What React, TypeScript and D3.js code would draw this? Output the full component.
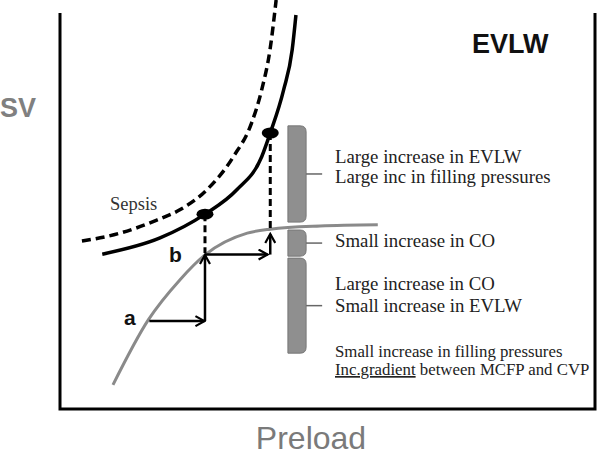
import React from "react";
import * as d3 from "d3";

// Curves (preload, SV) in abstract units 0..100
const sepsisCurve: [number, number][] = [
  [4.1, 42.4], [11.2, 44.4], [18.1, 47.7], [22.4, 50.3], [27.4, 55.3],
  [32.4, 63.7], [35.8, 72.2], [37.7, 80.6], [39.25, 90.7], [40.4, 103.3],
];
const evlwCurve: [number, number][] = [
  [7.9, 39.1], [18.7, 43.2], [27.1, 49.2], [33.0, 55.3], [37.7, 63.7],
  [39.3, 69.7], [41.8, 80.6], [43.4, 90.7], [44.1, 99.5],
];
const starlingCurve: [number, number][] = [
  [9.9, 6.1], [16.5, 22.5], [22.4, 32.6], [27.1, 38.9], [35.0, 44.4],
  [39.3, 45.4], [48.6, 46.2], [59.4, 46.5],
];
const dots: [number, number][] = [[27.1, 49.2], [39.3, 69.7]];
const dropLines: { x: number; y1: number; y2: number }[] = [
  { x: 27.1, y1: 49.2, y2: 39.4 },
  { x: 39.3, y1: 69.7, y2: 45.3 },
];
const arrows: { x1: number; y1: number; x2: number; y2: number }[] = [
  { x1: 16.7, y1: 22.2, x2: 27.0, y2: 22.2 },
  { x1: 27.1, y1: 22.2, x2: 27.1, y2: 38.9 },
  { x1: 27.1, y1: 39.0, x2: 38.8, y2: 39.0 },
  { x1: 39.3, y1: 39.0, x2: 39.3, y2: 44.2 },
];
const brackets: { top: number; bottom: number }[] = [
  { top: 71.5, bottom: 47.2 },
  { top: 45.2, bottom: 38.6 },
  { top: 38.1, bottom: 14.1 },
];
const bigNotes = [
  "Large increase in EVLW",
  "Large inc in filling pressures",
  "Small increase in CO",
  "Large increase in CO",
  "Small increase in EVLW",
];
const smallNotes = ["Small increase in filling pressures", "between MCFP and CVP"];

const W = 600;
const H = 457;
const left = 60, right = 595, bottom = 409, top = 13;

export default function App() {
  const x = d3.scaleLinear().domain([0, 100]).range([left, right]);
  const y = d3.scaleLinear().domain([0, 100]).range([bottom, top]);
  const line = d3
    .line<[number, number]>()
    .x((d) => x(d[0]))
    .y((d) => y(d[1]))
    .curve(d3.curveMonotoneX);

  const bx0 = x(42.6), bx1 = x(46.0), tabX = x(49.0);
  const bracketPath = (t: number, b: number) => {
    const y0 = y(t), y1 = y(b);
    const r = Math.min(6, (y1 - y0) / 3);
    return `M${bx0},${y0} L${bx1 - 6},${y0} Q${bx1},${y0} ${bx1},${y0 + r} L${bx1},${y1 - r} Q${bx1},${y1} ${bx1 - 6},${y1} L${bx0},${y1} Z`;
  };

  const serif = "'Liberation Serif', 'Times New Roman', serif";
  const sans = "'Liberation Sans', Arial, sans-serif";
  const textX = 335;
  const bigY = [163, 183, 247, 290, 312];

  return (
    <svg
      width={W}
      height={H}
      style={{ position: "absolute", left: 0, top: 0, background: "#fff" }}
    >
      <defs>
        <marker
          id="arr"
          viewBox="0 0 12 12"
          refX="10"
          refY="6"
          markerWidth="12"
          markerHeight="12"
          markerUnits="userSpaceOnUse"
          orient="auto"
        >
          <path d="M1,1 L10,6 L1,11" fill="none" stroke="#000" strokeWidth="2.2" />
        </marker>
      </defs>

      {/* frame */}
      <path
        d={`M${left},${top} L${left},${bottom} L${right},${bottom} L${right},${top}`}
        fill="none"
        stroke="#000"
        strokeWidth={3}
      />

      {/* axis labels */}
      <text x={0} y={117} fontFamily={sans} fontWeight="bold" fontSize={27} fill="#808080">
        SV
      </text>
      <text x={311} y={449} textAnchor="middle" fontFamily={sans} fontSize={32} fill="#7a7a7a">
        Preload
      </text>
      <text x={472} y={53} fontFamily={sans} fontWeight="bold" fontSize={27} fill="#111">
        EVLW
      </text>

      {/* curves */}
      <path d={line(starlingCurve) || ""} fill="none" stroke="#8a8a8a" strokeWidth={3} />
      <path
        d={line(sepsisCurve) || ""}
        fill="none"
        stroke="#000"
        strokeWidth={3.5}
        strokeDasharray="9,5"
      />
      <path d={line(evlwCurve) || ""} fill="none" stroke="#000" strokeWidth={3.5} />

      {/* drop lines */}
      {dropLines.map((d, i) => (
        <line
          key={i}
          x1={x(d.x)}
          x2={x(d.x)}
          y1={y(d.y1)}
          y2={y(d.y2)}
          stroke="#000"
          strokeWidth={3}
          strokeDasharray="7,4"
        />
      ))}

      {/* dots */}
      {dots.map((d, i) => (
        <ellipse key={i} cx={x(d[0])} cy={y(d[1])} rx={8.5} ry={5.5} fill="#000" />
      ))}

      {/* arrows */}
      {arrows.map((a, i) => (
        <line
          key={i}
          x1={x(a.x1)}
          y1={y(a.y1)}
          x2={x(a.x2)}
          y2={y(a.y2)}
          stroke="#000"
          strokeWidth={2.5}
          markerEnd="url(#arr)"
        />
      ))}

      <text x={124} y={325} fontFamily={sans} fontWeight="bold" fontSize={21} fill="#111">
        a
      </text>
      <text x={169} y={262} fontFamily={sans} fontWeight="bold" fontSize={21} fill="#111">
        b
      </text>
      <text x={110} y={210} fontFamily={serif} fontSize={18.5} fill="#333">
        Sepsis
      </text>

      {/* brackets */}
      {brackets.map((b, i) => {
        const mid = (y(b.top) + y(b.bottom)) / 2;
        return (
          <g key={i}>
            <path d={bracketPath(b.top, b.bottom)} fill="#8f8f8f" stroke="#777" strokeWidth={1} />
            <line x1={bx1} x2={tabX} y1={mid} y2={mid} stroke="#666" strokeWidth={1.5} />
          </g>
        );
      })}

      {/* notes */}
      {bigNotes.map((t, i) => (
        <text key={i} x={textX} y={bigY[i]} fontFamily={serif} fontSize={18.8} fill="#222">
          {t}
        </text>
      ))}
      <text x={textX} y={357} fontFamily={serif} fontSize={16.8} fill="#222">
        {smallNotes[0]}
      </text>
      <text x={textX} y={375} fontFamily={serif} fontSize={16.8} fill="#222">
        <tspan textDecoration="underline">Inc.gradient</tspan> {smallNotes[1]}
      </text>
    </svg>
  );
}
